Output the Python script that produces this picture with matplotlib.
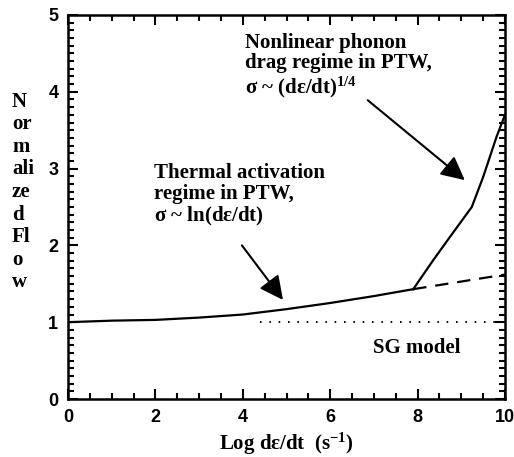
import matplotlib
matplotlib.use("Agg")
import matplotlib.pyplot as plt
from matplotlib.ticker import MultipleLocator

# thermal activation branch (solid), then phonon drag branch (solid, steep)
x_thermal = [0, 0.5, 1, 2, 3, 4, 5, 6, 7, 7.9]
y_thermal = [1.00, 1.01, 1.02, 1.03, 1.06, 1.10, 1.17, 1.25, 1.34, 1.43]
x_drag = [7.9, 8.36, 8.74, 9.24, 9.5, 9.81, 10]
y_drag = [1.43, 1.81, 2.11, 2.50, 2.89, 3.42, 3.70]
# thermal activation extrapolated (dashed)
x_extrap = [7.9, 10]
y_extrap = [1.43, 1.62]
# SG model (dotted)
x_sg = [4.4, 10]
y_sg = [1.0, 1.0]

x_ticks = [0, 2, 4, 6, 8, 10]
y_ticks = [0, 1, 2, 3, 4, 5]
ylabel_lines = ["N", "or", "m", "ali", "ze", "d", "Fl", "o", "w"]

SERIF = "Liberation Serif"
SANS = "Liberation Sans"
plt.rcParams["mathtext.fontset"] = "custom"
plt.rcParams["mathtext.rm"] = "Liberation Serif:bold"
plt.rcParams["mathtext.it"] = "Liberation Serif:bold"
plt.rcParams["mathtext.bf"] = "Liberation Serif:bold"

fig = plt.figure(figsize=(5.14, 4.57), dpi=100)
ax = fig.add_axes([68 / 514, 58 / 457, 437 / 514, 384 / 457])

ax.plot(x_thermal, y_thermal, color="k", lw=1.6)
ax.plot(x_drag, y_drag, color="k", lw=1.6)
ax.plot(x_extrap, y_extrap, color="k", lw=1.6, dashes=(6, 4))
ax.plot(x_sg, y_sg, color="k", lw=1.4, linestyle=(0, (0.8, 4)))

ax.set_xlim(0, 10)
ax.set_ylim(0, 5)
ax.set_xticks(x_ticks)
ax.set_yticks(y_ticks)
ax.xaxis.set_minor_locator(MultipleLocator(0.5))
ax.yaxis.set_minor_locator(MultipleLocator(0.1))
for sp in ax.spines.values():
    sp.set_linewidth(1.8)

ax.set_xlabel(r"Log d$\varepsilon$/dt  (s$^{-1}$)", fontfamily=SERIF,
              fontweight="bold", fontsize=15, labelpad=4)
fig.text(12 / 514, 1 - 192 / 457, "\n".join(ylabel_lines), fontfamily=SERIF,
         fontweight="bold", fontsize=15, ha="left", va="center", linespacing=1.17)

arrow = dict(arrowstyle="-|>,head_length=0.8,head_width=0.4", color="k",
             lw=1.5, mutation_scale=18, shrinkA=0, shrinkB=0)
ax.text(4.05, 4.77,
        "Nonlinear phonon\ndrag regime in PTW,\n" r"$\sigma$ ~ (d$\varepsilon$/dt)$^{1/4}$",
        fontfamily=SERIF, fontweight="bold", fontsize=15, ha="left", va="top",
        linespacing=1.05)
ax.annotate("", xy=(9.08, 2.85), xytext=(6.86, 3.89), arrowprops=arrow)
ax.text(1.97, 3.07,
        "Thermal activation\nregime in PTW,\n" r"$\sigma$ ~ ln(d$\varepsilon$/dt)",
        fontfamily=SERIF, fontweight="bold", fontsize=15, ha="left", va="top",
        linespacing=1.05)
ax.annotate("", xy=(4.92, 1.29), xytext=(3.98, 2.0), arrowprops=arrow)
ax.text(7.99, 0.66, "SG model", fontfamily=SERIF, fontweight="bold",
        fontsize=15, ha="center", va="center")

# ticks inward on all four sides
ax.tick_params(which="both", direction="in", top=True, right=True, width=1.5)
ax.tick_params(which="major", length=7, pad=7, labelsize=13)
ax.tick_params(which="minor", length=4)
for lab in ax.get_xticklabels() + ax.get_yticklabels():
    lab.set_fontfamily(SANS)
    lab.set_fontweight("bold")

fig.savefig("out.png", dpi=100)
